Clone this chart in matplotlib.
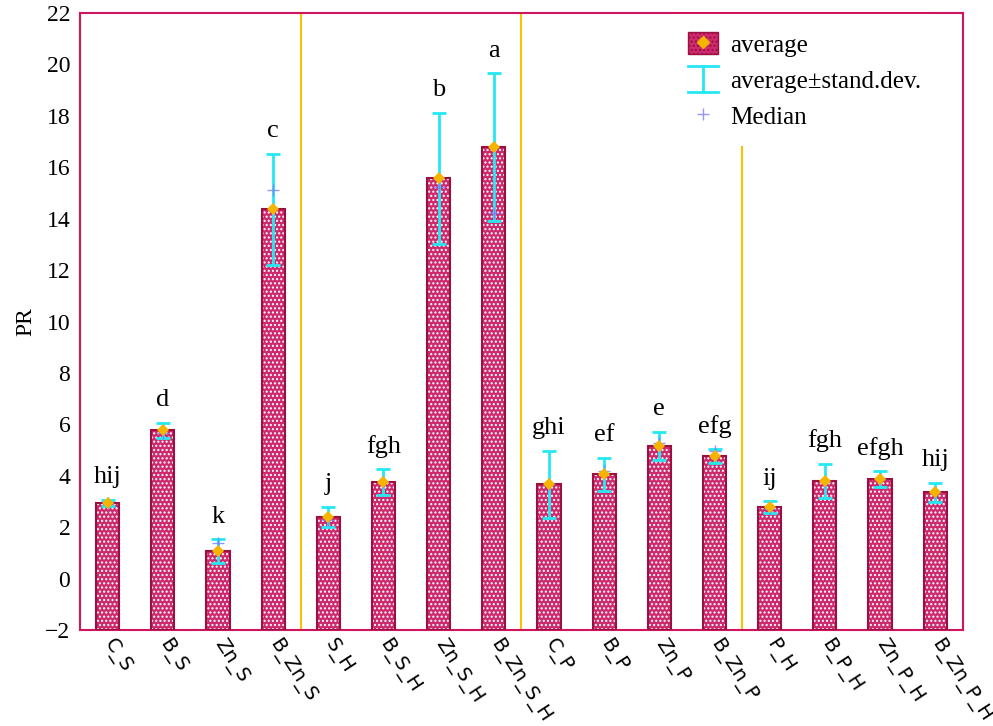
import matplotlib
matplotlib.use('Agg')
import matplotlib.pyplot as plt
import numpy as np
from matplotlib.patches import Patch
from matplotlib.lines import Line2D
from matplotlib.legend_handler import HandlerBase

groups = ['C_S', 'B_S', 'Zn_S', 'B_Zn_S', 'S_H', 'B_S_H', 'Zn_S_H', 'B_Zn_S_H',
          'C_P', 'B_P', 'Zn_P', 'B_Zn_P', 'P_H', 'B_P_H', 'Zn_P_H', 'B_Zn_P_H']
average = [2.94, 5.78, 1.07, 14.37, 2.40, 3.76, 15.58, 16.79,
           3.68, 4.07, 5.16, 4.77, 2.78, 3.80, 3.87, 3.37]
std_dev = [0.13, 0.29, 0.46, 2.15, 0.39, 0.50, 2.55, 2.87,
           1.30, 0.64, 0.55, 0.26, 0.23, 0.66, 0.31, 0.37]
median = [2.94, 5.66, 1.38, 15.11, 2.28, 3.76, 15.23, 14.22,
          3.68, 4.18, 5.27, 4.96, 2.70, 3.75, 3.87, 3.37]
letters = ['hij', 'd', 'k', 'c', 'j', 'fgh', 'b', 'a',
           'ghi', 'ef', 'e', 'efg', 'ij', 'fgh', 'efgh', 'hij']
yticks = [-2, 0, 2, 4, 6, 8, 10, 12, 14, 16, 18, 20, 22]
separators = [3.5, 7.5, 11.5]

frame_col = '#d0145e'
bar_face = '#cc2a6c'
bar_edge = '#9b1040'
err_col = '#25e8f2'
avg_col = '#f5b400'
med_col = '#7b7bff'
serif = ['Liberation Serif', 'DejaVu Serif']

plt.rcParams['hatch.color'] = 'white'
plt.rcParams['hatch.linewidth'] = 1.0


class HandlerIBar(HandlerBase):
    # cyan I-shaped symbol for the std-dev entry
    def create_artists(self, legend, orig_handle, xdescent, ydescent,
                       width, height, fontsize, trans):
        x0 = -xdescent
        x1 = x0 + width
        cx = (x0 + x1) / 2
        y0 = -ydescent - 0.1 * height
        y1 = -ydescent + 1.1 * height
        xs = [x0, x1, np.nan, cx, cx, np.nan, x0, x1]
        ys = [y0, y0, np.nan, y0, y1, np.nan, y1, y1]
        ln = Line2D(xs, ys, color=err_col, lw=2, transform=trans)
        return [ln]


fig = plt.figure(figsize=(9.93, 7.26), dpi=100)
ax = fig.add_axes([0.0806, 0.132, 0.889, 0.850])

x = np.arange(len(groups))
base = -2
heights = np.array(average) - base

for s in separators:
    ax.axvline(s, color='#ffc000', lw=1.5, zorder=1)

ax.bar(x, heights, 0.42, bottom=base, color=bar_face, edgecolor='white',
       hatch='....', linewidth=0, zorder=2)
ax.bar(x, heights, 0.42, bottom=base, facecolor='none', edgecolor=bar_edge,
       linewidth=1.5, zorder=3)
ax.errorbar(x, average, yerr=std_dev, fmt='none', ecolor=err_col, elinewidth=2,
            capsize=5, capthick=2, zorder=4)
ax.plot(x, median, '+', color=med_col, ms=9, mew=1, alpha=0.8, zorder=5)
ax.plot(x, average, 'D', color=avg_col, ms=6, mew=0, zorder=6)

for xi, a, sd, t in zip(x, average, std_dev, letters):
    ax.annotate(t, (xi, a + sd), xytext=(0, 12), textcoords='offset points',
                ha='center', va='baseline', fontsize=19, family=serif)

ax.set_xlim(-0.5, len(groups) - 0.5)
ax.set_ylim(-2, 22)
ax.set_yticks(yticks)
ax.set_yticklabels([str(v).replace('-', '\u2212') for v in yticks], family=serif, fontsize=17)
ax.set_xticks(x)
ax.set_xticklabels(groups, rotation=-57, ha='left', va='center',
                   rotation_mode='anchor', fontsize=14)
ax.tick_params(axis='both', length=0)
ax.tick_params(axis='y', pad=7)
ax.tick_params(axis='x', pad=8)
ax.set_ylabel('PR', family=serif, fontsize=17, labelpad=6)
for sp in ax.spines.values():
    sp.set_color(frame_col)
    sp.set_linewidth(1.5)

h_avg = (Patch(facecolor=bar_face, edgecolor=bar_edge, hatch='....'),
         Line2D([], [], marker='D', color=avg_col, ls='none', ms=6))
h_err = Line2D([], [], color=err_col)
h_med = Line2D([], [], marker='+', color=med_col, ls='none', ms=9, alpha=0.8)
leg = ax.legend([h_avg, h_err, h_med], ['average', 'average\u00b1stand.dev.', 'Median'],
                handler_map={h_err: HandlerIBar()},
                loc='upper right', bbox_to_anchor=(0.973, 0.998), borderaxespad=0,
                frameon=True, facecolor='white', edgecolor='none', framealpha=1,
                prop={'family': serif, 'size': 18}, handlelength=1.2,
                handleheight=1.0, handletextpad=0.5, labelspacing=0.45, borderpad=0.7)
leg.set_zorder(10)

fig.savefig('out.png', dpi=100)
